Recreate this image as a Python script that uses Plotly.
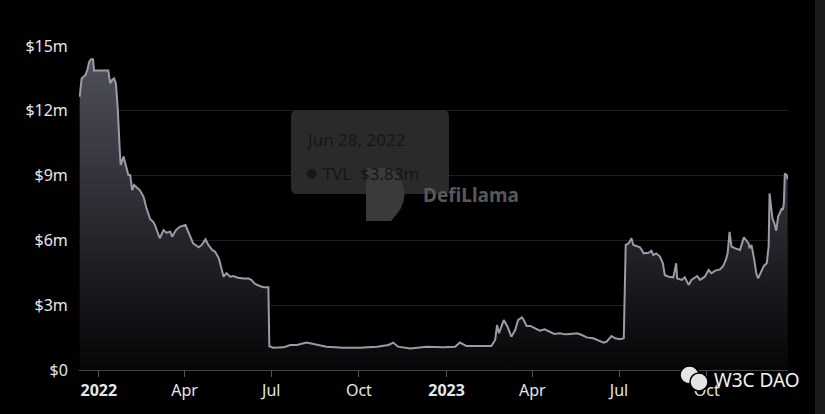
import plotly.graph_objs as go

# TVL history (USD millions)
dates = [
    "2021-12-12", "2021-12-14", "2021-12-18", "2021-12-20", "2021-12-22", "2021-12-24",
    "2021-12-26", "2021-12-27", "2022-01-11", "2022-01-13", "2022-01-15", "2022-01-17",
    "2022-01-19", "2022-01-21", "2022-01-23", "2022-01-24", "2022-01-27", "2022-01-30",
    "2022-02-01", "2022-02-03", "2022-02-05", "2022-02-07", "2022-02-13", "2022-02-17",
    "2022-02-20", "2022-02-24", "2022-02-27", "2022-03-01", "2022-03-03", "2022-03-06",
    "2022-03-10", "2022-03-13", "2022-03-17", "2022-03-19", "2022-03-23", "2022-03-27",
    "2022-04-02", "2022-04-05", "2022-04-10", "2022-04-16", "2022-04-19", "2022-04-23",
    "2022-04-26", "2022-04-30", "2022-05-03", "2022-05-07", "2022-05-10", "2022-05-12",
    "2022-05-15", "2022-05-19", "2022-05-22", "2022-05-27", "2022-06-02", "2022-06-07",
    "2022-06-10", "2022-06-14", "2022-06-19", "2022-06-23", "2022-06-28", "2022-06-29",
    "2022-07-03", "2022-07-14", "2022-07-21", "2022-07-28", "2022-08-07", "2022-08-16",
    "2022-08-28", "2022-09-15", "2022-10-02", "2022-10-20", "2022-11-01", "2022-11-06",
    "2022-11-11", "2022-11-24", "2022-12-11", "2022-12-29", "2023-01-10", "2023-01-15",
    "2023-01-22", "2023-02-05", "2023-02-17", "2023-02-21", "2023-02-23", "2023-02-25",
    "2023-03-02", "2023-03-06", "2023-03-10", "2023-03-14", "2023-03-17", "2023-03-21",
    "2023-03-23", "2023-03-26", "2023-03-30", "2023-04-04", "2023-04-09", "2023-04-14",
    "2023-04-20", "2023-04-24", "2023-04-30", "2023-05-05", "2023-05-11", "2023-05-18",
    "2023-05-23", "2023-05-28", "2023-06-04", "2023-06-09", "2023-06-15", "2023-06-18",
    "2023-06-23", "2023-06-27", "2023-07-02", "2023-07-06", "2023-07-08", "2023-07-11",
    "2023-07-14", "2023-07-16", "2023-07-20", "2023-07-23", "2023-07-27", "2023-08-01",
    "2023-08-04", "2023-08-06", "2023-08-09", "2023-08-13", "2023-08-16", "2023-08-18",
    "2023-08-22", "2023-08-27", "2023-08-30", "2023-08-31", "2023-09-05", "2023-09-08",
    "2023-09-12", "2023-09-15", "2023-09-21", "2023-09-24", "2023-09-29", "2023-10-03",
    "2023-10-06", "2023-10-10", "2023-10-15", "2023-10-18", "2023-10-21", "2023-10-23",
    "2023-10-25", "2023-10-27", "2023-10-31", "2023-11-05", "2023-11-09", "2023-11-14",
    "2023-11-15", "2023-11-17", "2023-11-20", "2023-11-22", "2023-11-24", "2023-11-28",
    "2023-11-30", "2023-12-03", "2023-12-05", "2023-12-06", "2023-12-09", "2023-12-11",
    "2023-12-13", "2023-12-15", "2023-12-19", "2023-12-20", "2023-12-21", "2023-12-22",
    "2023-12-24", "2023-12-25",
]
tvl_m = [
    12.65, 13.5, 13.66, 13.9, 14.27, 14.39,
    14.39, 13.86, 13.86, 13.27, 13.43, 13.5,
    13.27, 12.04, 10.19, 9.49, 9.88, 9.41,
    9.03, 9.03, 8.33, 8.57, 8.33, 8.02,
    7.5, 6.98, 6.87, 6.71, 6.45, 6.1,
    6.48, 6.36, 6.4, 6.17, 6.48, 6.63,
    6.71, 6.4, 5.86, 5.68, 5.79, 6.05,
    5.79, 5.56, 5.48, 5.17, 4.71, 4.32,
    4.48, 4.32, 4.35, 4.27, 4.24, 4.24,
    4.17, 3.98, 3.89, 3.83, 3.83, 1.1,
    1.03, 1.05, 1.16, 1.16, 1.27, 1.2,
    1.08, 1.03, 1.03, 1.08, 1.16, 1.27,
    1.08, 1.0, 1.08, 1.05, 1.08, 1.27,
    1.11, 1.11, 1.11, 1.39, 2.08, 1.7,
    2.31, 2.0, 1.54, 1.85, 2.31, 2.44,
    2.31, 2.04, 2.04, 1.93, 1.82, 1.88,
    1.77, 1.67, 1.7, 1.65, 1.67, 1.7,
    1.62, 1.51, 1.47, 1.39, 1.27, 1.31,
    1.57, 1.47, 1.42, 1.47, 5.79, 5.86,
    6.1, 5.79, 5.74, 5.68, 5.4, 5.43,
    5.52, 5.32, 5.4, 5.25, 4.94, 4.4,
    4.32, 4.29, 4.94, 4.24, 4.17, 4.29,
    3.94, 4.17, 4.35, 4.17, 4.32, 4.63,
    4.48, 4.6, 4.66, 4.79, 5.09, 5.4,
    6.4, 5.71, 5.63, 5.56, 6.14, 5.86,
    5.63, 5.79, 5.09, 4.48, 4.24, 4.63,
    4.82, 4.94, 5.71, 8.18, 7.02, 6.79,
    6.45, 7.1, 7.49, 7.41, 7.72, 9.1,
    9.03, 8.83,
]
tvl = [v * 1e6 for v in tvl_m]

y_ticks = [0, 3e6, 6e6, 9e6, 12e6, 15e6]
y_labels = ["$0", "$3m", "$6m", "$9m", "$12m", "$15m"]
x_ticks = ["2022-01-01", "2022-04-01", "2022-07-01", "2022-10-01",
           "2023-01-01", "2023-04-01", "2023-07-01", "2023-10-01"]
x_labels = ["<b>2022</b>", "Apr", "Jul", "Oct", "<b>2023</b>", "Apr", "Jul", "Oct"]

# plot area in pixels (825x414 window)
L, R, T, B = 79, 788, 46, 370


def px(x):
    return (x - L) / (R - L)


def py(y):
    return (B - y) / (B - T)


fig = go.Figure(go.Scatter(
    x=dates,
    y=tvl,
    mode="lines",
    line=dict(color="#9a9ba6", width=2),
    fill="tozeroy",
    fillgradient=dict(
        type="vertical",
        start=0,
        stop=14.4e6,
        colorscale=[[0, "rgb(6,6,8)"], [1, "rgb(78,80,90)"]],
    ),
    name="TVL",
    hoverinfo="skip",
))

font = "Noto Sans, Open Sans, sans-serif"

fig.update_layout(
    width=825,
    height=414,
    margin=dict(l=L, r=825 - R, t=T, b=414 - B),
    paper_bgcolor="#000000",
    plot_bgcolor="#000000",
    showlegend=False,
    font=dict(family=font, color="#e6e6e6", size=16),
    xaxis=dict(
        range=["2021-12-11 06:00", "2023-12-25 08:00"],
        tickvals=x_ticks,
        ticktext=x_labels,
        showgrid=False,
        showline=True,
        linecolor="#444444",
        linewidth=1,
        ticks="outside",
        ticklen=6,
        tickcolor="#555555",
        tickfont=dict(size=16, color="#e6e6e6"),
        zeroline=False,
    ),
    yaxis=dict(
        range=[0, 15e6],
        tickvals=y_ticks,
        ticktext=y_labels,
        showgrid=True,
        gridcolor="#1e1e1e",
        gridwidth=1,
        zeroline=False,
        showline=False,
        ticks="outside",
        ticklen=7,
        tickcolor="rgba(0,0,0,0)",
        tickfont=dict(size=16, color="#e6e6e6"),
    ),
)

shapes = [
    # right edge grey band
    dict(type="rect", xref="paper", yref="paper", x0=px(815), x1=px(826),
         y0=py(415), y1=py(-1), fillcolor="#1b1b1b", line=dict(width=0), layer="above"),
    # faded tooltip box (rounded)
    dict(type="path", xref="paper", yref="paper",
         path=("M {x0},{ym1} Q {x0},{y0} {xa},{y0} L {xb},{y0} Q {x1},{y0} {x1},{ym1} "
               "L {x1},{ym2} Q {x1},{y1} {xb},{y1} L {xa},{y1} Q {x0},{y1} {x0},{ym2} Z").format(
             x0=px(291), x1=px(449), xa=px(297), xb=px(443),
             y0=py(110), y1=py(194), ym1=py(116), ym2=py(188)),
         fillcolor="#2a2a2a", line=dict(width=0), layer="above"),
    # DefiLlama logo block
    dict(type="path", xref="paper", yref="paper",
         path=("M {a},{b} L {c},{b} Q {d},{e} {c},{f} L {a},{f} Z").format(
             a=px(366), b=py(168), c=px(391), d=px(418), e=py(194), f=py(221)),
         fillcolor="#3a3a3a", line=dict(width=0), layer="above"),
    # WeChat bubbles
    dict(type="circle", xref="paper", yref="paper", x0=px(680), x1=px(699),
         y0=py(384), y1=py(366), fillcolor="#e4e4e4", line=dict(color="#000", width=1.5),
         layer="above"),
    dict(type="circle", xref="paper", yref="paper", x0=px(690), x1=px(708),
         y0=py(391), y1=py(373), fillcolor="#e4e4e4", line=dict(color="#000", width=1.5),
         layer="above"),
]
fig.update_layout(shapes=shapes)

fig.add_annotation(xref="paper", yref="paper", x=px(304), y=py(139),
                   xanchor="left", yanchor="middle",
                   text="Jun 28, 2022", showarrow=False,
                   font=dict(family=font, size=17, color="#161616"))
fig.add_annotation(xref="paper", yref="paper", x=px(303), y=py(171),
                   xanchor="left", yanchor="middle",
                   text="<span style='font-size:22px'>●</span> TVL  $3.83m", showarrow=False,
                   font=dict(family=font, size=17, color="#161616"))
fig.add_annotation(xref="paper", yref="paper", x=px(421), y=py(195),
                   xanchor="left", yanchor="middle",
                   text="<b>DefiLlama</b>", showarrow=False,
                   font=dict(family=font, size=19, color="#585858"))
fig.add_annotation(xref="paper", yref="paper", x=px(712), y=py(380),
                   xanchor="left", yanchor="middle",
                   text="W3C DAO", showarrow=False,
                   font=dict(family=font, size=19, color="#f2f2f2"))

fig.write_html(
    "out.html",
    config={"displayModeBar": False},
    post_script="document.body.style.margin='0';document.body.style.background='#000';",
)
